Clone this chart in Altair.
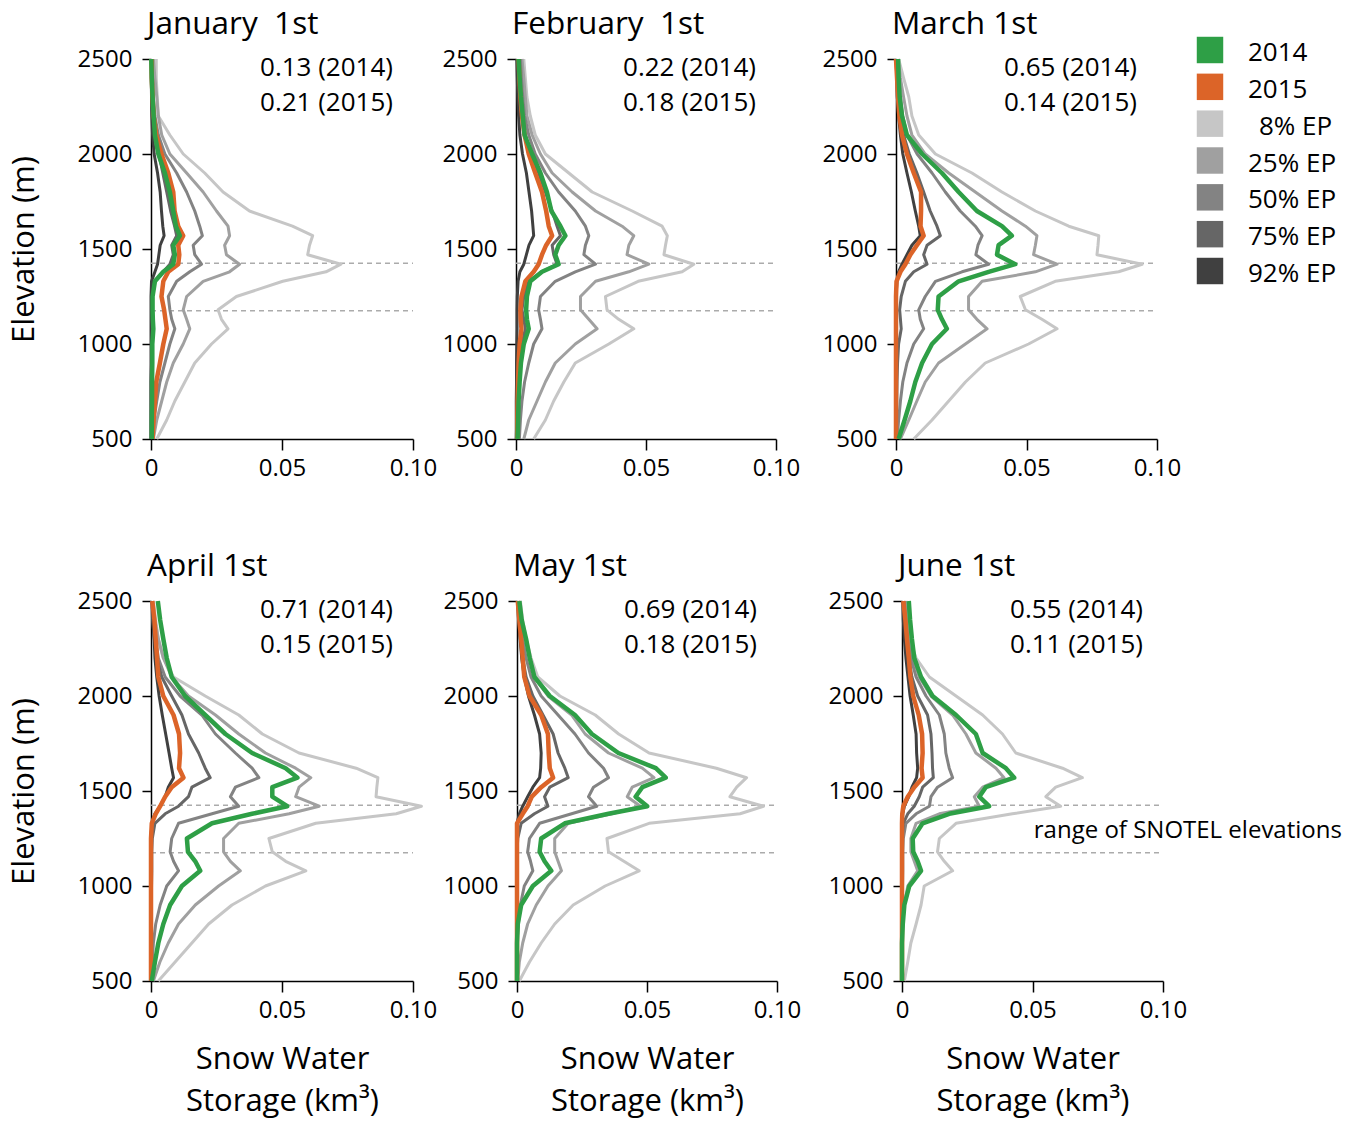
import altair as alt
import pandas as pd

FONT = "Open Sans"

# ---------------- data ----------------
ELEV = [2500, 2400, 2300, 2200, 2100, 2000, 1900, 1800, 1700, 1620, 1570, 1520, 1470,
        1420, 1380, 1330, 1250, 1180, 1130, 1080, 1000, 900, 800, 700, 600, 500]

SERIES = ["2014", "2015", "8% EP", "25% EP", "50% EP", "75% EP", "92% EP"]
LEGEND_LABELS = ["2014", "2015", "8% EP", "25% EP", "50% EP", "75% EP", "92% EP"]
COLORS = ["#2E9F46", "#DC6428", "#C6C6C6", "#A0A0A0", "#838383", "#666666", "#404040"]
EP_SERIES = ["8% EP", "25% EP", "50% EP", "75% EP", "92% EP"]
YEAR_SERIES = ["2015", "2014"]

MONTHS = ["January\u00a0 1st", "February\u00a0 1st", "March 1st", "April 1st", "May 1st", "June 1st"]
TOT_2014 = [0.13, 0.22, 0.65, 0.71, 0.69, 0.55]
TOT_2015 = [0.21, 0.18, 0.14, 0.15, 0.18, 0.11]

SNOTEL_RANGE = [1175, 1425]
SNOTEL_LABEL = "range of SNOTEL elevations"
SNOTEL_LABEL_AT = [0.0505, 1290]

X_DOMAIN = [0, 0.1]
X_TICKS = [0, 0.05, 0.1]
Y_DOMAIN = [500, 2500]
Y_TICKS = [500, 1000, 1500, 2000, 2500]

jan_ep08 = [0.002, 0.002, 0.0024, 0.0028, 0.0072, 0.0123, 0.0205, 0.0275, 0.0376, 0.054, 0.0617, 0.0605, 0.0598, 0.0725, 0.0668, 0.0503, 0.0326, 0.0256, 0.0269, 0.0294, 0.0231, 0.0167, 0.0129, 0.0091, 0.006, 0.0022]
jan_ep25 = [0.0009, 0.0015, 0.0022, 0.0028, 0.0041, 0.0072, 0.0136, 0.0199, 0.025, 0.0294, 0.03, 0.0281, 0.0288, 0.0338, 0.03, 0.0199, 0.0136, 0.0123, 0.0136, 0.0148, 0.0123, 0.0085, 0.006, 0.0041, 0.0022, 0.0009]
jan_ep50 = [0.0004, 0.0006, 0.0009, 0.0015, 0.0028, 0.0053, 0.0098, 0.0136, 0.0167, 0.0186, 0.0196, 0.0161, 0.0167, 0.0193, 0.0148, 0.0098, 0.0066, 0.0072, 0.0079, 0.0091, 0.0072, 0.0053, 0.0034, 0.0022, 0.0011, 0.0005]
jan_ep75 = [0.0002, 0.0003, 0.0005, 0.0008, 0.0015, 0.003, 0.0045, 0.006, 0.0075, 0.009, 0.0098, 0.0079, 0.0085, 0.0072, 0.0047, 0.0015, 0.0002, 0.0003, 0.0004, 0.0005, 0.0003, 0.0002, 0, 0, 0, 0]
jan_ep92 = [0.0001, 0.0001, 0.0002, 0.0003, 0.0006, 0.0012, 0.0025, 0.0035, 0.004, 0.0045, 0.005, 0.0035, 0.003, 0.0025, 0.0015, 0.0002, 0, 0, 0, 0, 0, 0, 0, 0, 0, 0]
jan_2014 = [0.0001, 0.0003, 0.0006, 0.001, 0.0015, 0.0028, 0.0053, 0.0072, 0.0085, 0.0095, 0.011, 0.0085, 0.0091, 0.0085, 0.0047, 0.0015, 0.0006, 0.0006, 0.0007, 0.0009, 0.0005, 0.0005, 0.0004, 0.0004, 0.0003, 0.0003]
jan_2015 = [0.0002, 0.0003, 0.0006, 0.001, 0.002, 0.004, 0.0066, 0.0085, 0.009, 0.0104, 0.0123, 0.0104, 0.0108, 0.0104, 0.0066, 0.0047, 0.004, 0.005, 0.0055, 0.006, 0.0047, 0.0034, 0.002, 0.0015, 0.001, 0.0006]

feb_ep08 = [0.003, 0.0036, 0.0042, 0.0055, 0.0074, 0.0113, 0.0203, 0.0293, 0.0447, 0.0562, 0.0582, 0.0575, 0.0569, 0.0684, 0.0639, 0.047, 0.0344, 0.035, 0.0395, 0.0453, 0.0357, 0.0228, 0.0184, 0.0145, 0.0113, 0.0068]
feb_ep25 = [0.0023, 0.003, 0.0036, 0.0042, 0.0062, 0.0094, 0.0139, 0.0216, 0.0306, 0.0408, 0.0453, 0.0434, 0.0427, 0.0511, 0.0434, 0.0306, 0.0248, 0.0248, 0.028, 0.0312, 0.0228, 0.0151, 0.0113, 0.0081, 0.0049, 0.003]
feb_ep50 = [0.0017, 0.0021, 0.0026, 0.0033, 0.0049, 0.0074, 0.0113, 0.0164, 0.0228, 0.0267, 0.028, 0.0267, 0.0261, 0.0306, 0.0228, 0.0151, 0.0094, 0.0087, 0.0094, 0.01, 0.0068, 0.0049, 0.0033, 0.0023, 0.0017, 0.0013]
feb_ep75 = [0.001, 0.0013, 0.0017, 0.0023, 0.0036, 0.0055, 0.0087, 0.0113, 0.0139, 0.0158, 0.0171, 0.0139, 0.0145, 0.0158, 0.01, 0.0049, 0.003, 0.0023, 0.003, 0.0036, 0.0023, 0.0014, 0.0008, 0.0004, 0.0003, 0.0001]
feb_ep92 = [0.0003, 0.0005, 0.0007, 0.001, 0.0015, 0.0025, 0.004, 0.005, 0.006, 0.0065, 0.0068, 0.005, 0.004, 0.003, 0.0015, 0.0008, 0.0005, 0.0004, 0.0004, 0.0004, 0.0003, 0.0002, 0.0002, 0.0001, 0.0001, 0.0001]
feb_2014 = [0.001, 0.0014, 0.0019, 0.0026, 0.0033, 0.0062, 0.0094, 0.0119, 0.0136, 0.0171, 0.019, 0.0164, 0.0151, 0.0164, 0.01, 0.0055, 0.0042, 0.0039, 0.0042, 0.0049, 0.003, 0.0019, 0.0014, 0.001, 0.0008, 0.0006]
feb_2015 = [0.001, 0.0013, 0.0017, 0.0023, 0.0033, 0.0049, 0.0074, 0.01, 0.0116, 0.0126, 0.0139, 0.0116, 0.01, 0.0087, 0.0068, 0.0036, 0.0021, 0.0017, 0.0018, 0.0021, 0.0014, 0.001, 0.0008, 0.0006, 0.0005, 0.0005]

mar_ep08 = [0.001, 0.0029, 0.0049, 0.0061, 0.0087, 0.0151, 0.0291, 0.0406, 0.0534, 0.0662, 0.0777, 0.0774, 0.077, 0.0943, 0.0853, 0.061, 0.0476, 0.0496, 0.0559, 0.0617, 0.0508, 0.0342, 0.0266, 0.0202, 0.0138, 0.0068]
mar_ep25 = [0.0008, 0.0017, 0.0029, 0.0042, 0.0061, 0.0112, 0.0202, 0.0304, 0.0406, 0.0496, 0.054, 0.0534, 0.0527, 0.0617, 0.0534, 0.033, 0.0278, 0.0278, 0.031, 0.0349, 0.0266, 0.0163, 0.0112, 0.008, 0.0049, 0.0017]
mar_ep50 = [0.0004, 0.001, 0.0017, 0.0026, 0.0042, 0.0081, 0.0138, 0.0189, 0.0246, 0.0304, 0.033, 0.0314, 0.0306, 0.0355, 0.0253, 0.0151, 0.0112, 0.0087, 0.0093, 0.0106, 0.0068, 0.0042, 0.0026, 0.0017, 0.001, 0.0005]
mar_ep75 = [0.0003, 0.0006, 0.001, 0.0017, 0.0029, 0.0051, 0.008, 0.0106, 0.0131, 0.0157, 0.017, 0.0119, 0.0106, 0.0119, 0.0068, 0.0036, 0.002, 0.0014, 0.0017, 0.002, 0.001, 0.0006, 0.0004, 0.0003, 0.0001, 0.0001]
mar_ep92 = [0, 0.0003, 0.0005, 0.001, 0.0017, 0.0026, 0.0042, 0.0059, 0.0074, 0.0087, 0.0093, 0.0061, 0.0042, 0.0023, 0.001, 0.0004, 0, 0, 0, 0, 0, 0, 0, 0, 0, 0]
mar_2014 = [0.0008, 0.001, 0.0014, 0.0023, 0.0042, 0.01, 0.0176, 0.024, 0.031, 0.0406, 0.0444, 0.0393, 0.0387, 0.0457, 0.0355, 0.024, 0.0163, 0.016, 0.0176, 0.0195, 0.0138, 0.01, 0.0074, 0.0055, 0.0033, 0.001]
mar_2015 = [0, 0.0004, 0.0008, 0.0013, 0.0023, 0.0042, 0.0068, 0.0096, 0.0096, 0.0094, 0.0106, 0.008, 0.0055, 0.0036, 0.0017, 0.0002, 0, 0, 0, 0, 0, 0, 0, 0, 0, 0]

apr_ep08 = [0.0009, 0.0018, 0.0028, 0.0047, 0.0086, 0.0207, 0.0335, 0.0425, 0.0565, 0.0783, 0.0866, 0.0862, 0.0859, 0.1032, 0.0936, 0.0629, 0.045, 0.0463, 0.0514, 0.0591, 0.0437, 0.0309, 0.022, 0.0156, 0.0092, 0.0028]
apr_ep25 = [0.0005, 0.0015, 0.0028, 0.0047, 0.0079, 0.0143, 0.0246, 0.0335, 0.0437, 0.0552, 0.061, 0.0565, 0.0552, 0.0642, 0.0527, 0.0335, 0.0277, 0.0277, 0.0303, 0.0341, 0.0258, 0.0169, 0.0105, 0.0066, 0.0034, 0.0009]
apr_ep50 = [0.0003, 0.0009, 0.0018, 0.0028, 0.0054, 0.0111, 0.0194, 0.0246, 0.0322, 0.0386, 0.0412, 0.0322, 0.0303, 0.0335, 0.0233, 0.0105, 0.0079, 0.0073, 0.0086, 0.0105, 0.006, 0.0035, 0.0018, 0.0009, 0.0005, 0.0003]
apr_ep75 = [0.0003, 0.0006, 0.0013, 0.0022, 0.0041, 0.0079, 0.0118, 0.0143, 0.0182, 0.0207, 0.0226, 0.0156, 0.0143, 0.0105, 0.0054, 0.0015, 0.0005, 0.0003, 0.0003, 0.0003, 0.0002, 0.0001, 0, 0, 0, 0]
apr_ep92 = [0.0005, 0.0008, 0.0012, 0.0015, 0.0022, 0.0031, 0.0043, 0.0056, 0.0069, 0.0079, 0.0086, 0.0066, 0.0054, 0.0035, 0.0015, 0.0003, 0, 0, 0, 0, 0, 0, 0, 0, 0, 0]
apr_2014 = [0.0026, 0.0035, 0.0047, 0.006, 0.0079, 0.013, 0.0207, 0.0284, 0.0386, 0.0514, 0.0559, 0.0463, 0.0463, 0.052, 0.0386, 0.0233, 0.0137, 0.0141, 0.0169, 0.0188, 0.0118, 0.0073, 0.0047, 0.0028, 0.0015, 0.0003]
apr_2015 = [0.0005, 0.0013, 0.0018, 0.0023, 0.0028, 0.0047, 0.0086, 0.0107, 0.0111, 0.0107, 0.0124, 0.0079, 0.0054, 0.0035, 0.0018, 0.0003, 0, 0, 0, 0, 0, 0, 0, 0, 0, 0]

may_ep08 = [0.0013, 0.0022, 0.0035, 0.0054, 0.008, 0.0165, 0.0301, 0.0391, 0.0508, 0.0767, 0.0883, 0.0845, 0.0819, 0.0948, 0.0858, 0.0508, 0.0346, 0.0352, 0.0411, 0.047, 0.0339, 0.0216, 0.0145, 0.0093, 0.0048, 0.0009]
may_ep25 = [0.0009, 0.0018, 0.0031, 0.0048, 0.0067, 0.0119, 0.021, 0.0262, 0.0352, 0.0482, 0.0527, 0.0443, 0.0424, 0.0475, 0.0365, 0.0197, 0.0145, 0.0145, 0.0158, 0.0171, 0.0119, 0.0074, 0.0041, 0.0022, 0.0009, 0.0003]
may_ep50 = [0.0005, 0.0013, 0.0022, 0.0035, 0.0054, 0.0093, 0.0158, 0.0223, 0.0275, 0.0333, 0.0352, 0.0294, 0.0275, 0.0307, 0.021, 0.0087, 0.0048, 0.0041, 0.0052, 0.0061, 0.0028, 0.0013, 0.0005, 0, 0, 0]
may_ep75 = [0.0003, 0.0008, 0.0013, 0.0022, 0.0035, 0.0061, 0.01, 0.0139, 0.0158, 0.0184, 0.0197, 0.0126, 0.0106, 0.0119, 0.0067, 0.0016, 0.0003, 0, 0, 0, 0, 0, 0, 0, 0, 0]
may_ep92 = [0.0003, 0.0006, 0.0012, 0.0018, 0.0028, 0.0044, 0.0067, 0.0087, 0.0093, 0.0091, 0.0087, 0.0061, 0.0041, 0.0022, 0.0009, 0, 0, 0, 0, 0, 0, 0, 0, 0, 0, 0]
may_2014 = [0.0009, 0.0018, 0.0035, 0.0049, 0.0067, 0.0126, 0.0223, 0.0288, 0.039, 0.0534, 0.0572, 0.0482, 0.0456, 0.0501, 0.0352, 0.0184, 0.0093, 0.0087, 0.0106, 0.0132, 0.0061, 0.0016, 0.0003, 0, 0, 0]
may_2015 = [0.0003, 0.0009, 0.0016, 0.0022, 0.0028, 0.0048, 0.0093, 0.0119, 0.0122, 0.0126, 0.0139, 0.0093, 0.0057, 0.0041, 0.0022, 0, 0, 0, 0, 0, 0, 0, 0, 0, 0, 0]

jun_ep08 = [0.0005, 0.0013, 0.0028, 0.0054, 0.0105, 0.0207, 0.0309, 0.0385, 0.0436, 0.0615, 0.0691, 0.0589, 0.0551, 0.0608, 0.0423, 0.0207, 0.0143, 0.0136, 0.0162, 0.0194, 0.0085, 0.0073, 0.0054, 0.0034, 0.0022, 0.0009]
jun_ep25 = [0.0015, 0.0022, 0.0031, 0.0043, 0.0066, 0.0111, 0.0194, 0.0245, 0.0283, 0.036, 0.0391, 0.0309, 0.0277, 0.0296, 0.0143, 0.0054, 0.0034, 0.0034, 0.0047, 0.006, 0.0022, 0.0009, 0.0003, 0, 0, 0]
jun_ep50 = [0.0009, 0.0015, 0.0022, 0.0034, 0.0054, 0.0092, 0.0143, 0.0162, 0.0168, 0.0181, 0.0194, 0.0136, 0.0111, 0.0105, 0.0054, 0.0015, 0.0005, 0.0003, 0.0003, 0.0003, 0.0002, 0.0001, 0, 0, 0, 0]
jun_ep75 = [0.0005, 0.001, 0.0018, 0.0026, 0.0038, 0.006, 0.0098, 0.0111, 0.0115, 0.0117, 0.012, 0.0079, 0.0066, 0.0047, 0.0022, 0.0005, 0, 0, 0, 0, 0, 0, 0, 0, 0, 0]
jun_ep92 = [0.0003, 0.0005, 0.0009, 0.0015, 0.0023, 0.0031, 0.0043, 0.0054, 0.0056, 0.006, 0.0056, 0.0038, 0.0026, 0.0009, 0.0003, 0, 0, 0, 0, 0, 0, 0, 0, 0, 0, 0]
jun_2014 = [0.0026, 0.0031, 0.0038, 0.0047, 0.0073, 0.0117, 0.0207, 0.0283, 0.0309, 0.0398, 0.043, 0.0321, 0.0296, 0.0334, 0.0181, 0.0079, 0.0041, 0.0043, 0.006, 0.0073, 0.0028, 0.0009, 0.0003, 0, 0, 0]
jun_2015 = [0.0005, 0.0013, 0.0019, 0.0026, 0.0032, 0.0043, 0.0064, 0.0077, 0.0079, 0.0075, 0.0079, 0.0047, 0.0022, 0.0005, 0.0001, 0, 0, 0, 0, 0, 0, 0, 0, 0, 0, 0]

MONTH_DATA = [
    dict(zip(SERIES, [jan_2014, jan_2015, jan_ep08, jan_ep25, jan_ep50, jan_ep75, jan_ep92])),
    dict(zip(SERIES, [feb_2014, feb_2015, feb_ep08, feb_ep25, feb_ep50, feb_ep75, feb_ep92])),
    dict(zip(SERIES, [mar_2014, mar_2015, mar_ep08, mar_ep25, mar_ep50, mar_ep75, mar_ep92])),
    dict(zip(SERIES, [apr_2014, apr_2015, apr_ep08, apr_ep25, apr_ep50, apr_ep75, apr_ep92])),
    dict(zip(SERIES, [may_2014, may_2015, may_ep08, may_ep25, may_ep50, may_ep75, may_ep92])),
    dict(zip(SERIES, [jun_2014, jun_2015, jun_ep08, jun_ep25, jun_ep50, jun_ep75, jun_ep92])),
]

PLOT_H = 380
COLOR_SCALE = alt.Scale(domain=SERIES, range=COLORS)


def make_panel(i, width, show_xtitle, show_ytitle, note=False):
    rows = []
    order = EP_SERIES + YEAR_SERIES
    for s in order:
        for e, v in zip(ELEV, MONTH_DATA[i][s]):
            rows.append({"series": s, "elev": e, "swe": v})
    df = pd.DataFrame(rows)

    xaxis_kw = dict(values=X_TICKS,
                    labelExpr="datum.value === 0 ? '0' : format(datum.value, '.2f')",
                    labelFlush=False, labelPadding=6, tickSize=11)
    if show_xtitle:
        xaxis_kw.update(title=["Snow Water", "Storage (km\u00b3)"], titlePadding=22,
                        titleLineHeight=42)
    else:
        xaxis_kw.update(title=None)
    yaxis_kw = dict(values=Y_TICKS, format="d", labelPadding=10, tickSize=9)
    if show_ytitle:
        yaxis_kw.update(title="Elevation (m)", titlePadding=37)
    else:
        yaxis_kw.update(title=None)

    xenc = alt.X("swe:Q", scale=alt.Scale(domain=X_DOMAIN, nice=False, zero=False),
                 axis=alt.Axis(**xaxis_kw))
    yenc = alt.Y("elev:Q", scale=alt.Scale(domain=Y_DOMAIN, nice=False, zero=False),
                 axis=alt.Axis(**yaxis_kw))
    color = alt.Color("series:N", scale=COLOR_SCALE, legend=None)

    rule_df = pd.DataFrame({"elev": SNOTEL_RANGE, "swe": [X_DOMAIN[0]] * 2, "swe2": [X_DOMAIN[1]] * 2})
    rules = alt.Chart(rule_df).mark_rule(color="#ABABAB", strokeWidth=1.5, strokeDash=[5, 4]).encode(
        x=xenc, x2="swe2:Q", y=yenc)

    base = alt.Chart(df).encode(x=xenc, y=yenc, color=color, detail="series:N",
                                order=alt.Order("elev:Q"))
    ep = base.transform_filter(alt.FieldOneOfPredicate(field="series", oneOf=EP_SERIES)).mark_line(
        strokeWidth=3, strokeJoin="round")
    yrs = base.transform_filter(alt.FieldOneOfPredicate(field="series", oneOf=YEAR_SERIES)).mark_line(
        strokeWidth=4.5, strokeJoin="round")

    t1 = alt.Chart(pd.DataFrame({"label": [f"{TOT_2014[i]:.2f} (2014)"]})).mark_text(
        align="right", baseline="alphabetic", fontSize=26, font=FONT, color="black").encode(
        x=alt.value(width - 20), y=alt.value(17), text="label:N")
    t2 = alt.Chart(pd.DataFrame({"label": [f"{TOT_2015[i]:.2f} (2015)"]})).mark_text(
        align="right", baseline="alphabetic", fontSize=26, font=FONT, color="black").encode(
        x=alt.value(width - 20), y=alt.value(52), text="label:N")

    layers = [rules, ep, yrs, t1, t2]
    if note:
        ndf = pd.DataFrame({"swe": [SNOTEL_LABEL_AT[0]], "elev": [SNOTEL_LABEL_AT[1]], "label": [SNOTEL_LABEL]})
        layers.append(alt.Chart(ndf).mark_text(align="left", baseline="middle", fontSize=24,
                                               font=FONT, color="black").encode(
            x=xenc, y=yenc, text="label:N"))

    return alt.layer(*layers).properties(
        width=width, height=PLOT_H,
        title=alt.TitleParams(MONTHS[i], anchor="start", frame="group", fontSize=31.5, font=FONT,
                              fontWeight="normal", color="black", dx=-4, offset=7))


# legend panel
leg_df = pd.DataFrame({"series": SERIES, "label": LEGEND_LABELS})
ly = alt.Y("series:N", sort=SERIES, scale=alt.Scale(type="point", range=[-9, 212], padding=0), axis=None)
leg_sq = alt.Chart(leg_df).mark_point(shape="square", size=700, filled=True, opacity=1).encode(
    y=ly, x=alt.value(14), color=alt.Color("series:N", scale=COLOR_SCALE, legend=None))
leg_tx_main = alt.Chart(leg_df).transform_filter(alt.datum.series != "8% EP").mark_text(
    align="left", baseline="middle", fontSize=26, font=FONT, color="black", dy=3).encode(
    y=ly, x=alt.value(52), text="label:N")
leg_tx_ind = alt.Chart(leg_df).transform_filter(alt.datum.series == "8% EP").mark_text(
    align="left", baseline="middle", fontSize=26, font=FONT, color="black", dy=3).encode(
    y=ly, x=alt.value(63), text="label:N")
legend = alt.layer(leg_sq, leg_tx_main, leg_tx_ind).properties(width=150, height=PLOT_H)

jan = make_panel(0, 262, False, True)
feb = make_panel(1, 260, False, False)
mar = make_panel(2, 261, False, False)
apr = make_panel(3, 262, True, True)
may = make_panel(4, 260, True, False)
jun = make_panel(5, 261, True, False, note=True)

top = alt.hconcat(alt.hconcat(alt.hconcat(jan, feb, spacing=5), mar, spacing=22), legend, spacing=15)
bottom = alt.hconcat(alt.hconcat(apr, may, spacing=6), jun, spacing=27)

chart = alt.vconcat(top, bottom, spacing=70).configure_axis(
    labelFont=FONT, labelFontSize=24, labelColor="black",
    titleFont=FONT, titleFontSize=31, titleFontWeight="normal", titleColor="black",
    domainColor="black", domainWidth=1.5, tickColor="black", tickWidth=1.5,
    grid=False
).configure_view(strokeWidth=0).properties(padding={"left": 0, "top": 0, "right": 5, "bottom": 5})

chart.save("out.html", embed_options={"renderer": "svg", "actions": False})
